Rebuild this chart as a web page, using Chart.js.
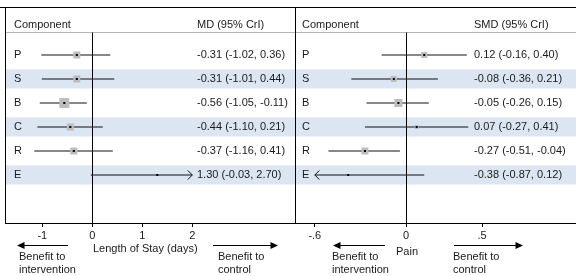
<!DOCTYPE html>
<html><head><meta charset="utf-8">
<script src="https://cdn.jsdelivr.net/npm/chart.js@4.4.1/dist/chart.umd.min.js"></script>
<style>
html,body{margin:0;padding:0;background:#fff;}
#wrap{position:relative;width:576px;height:276px;overflow:hidden;background:#fff;}
#c1{position:absolute;left:0;top:0;}
#c2{position:absolute;left:296px;top:0;}
</style></head><body>
<div id="wrap"><canvas id="c1" width="296" height="276"></canvas><canvas id="c2" width="280" height="276"></canvas></div>
<script>
// ---- data ----
const components = ['P', 'S', 'B', 'C', 'R', 'E'];
const mdEst = [-0.31, -0.31, -0.56, -0.44, -0.37, 1.30];
const mdLo  = [-1.02, -1.01, -1.05, -1.10, -1.16, -0.03];
const mdHi  = [0.36, 0.44, -0.11, 0.21, 0.41, 2.70];
const mdWeight = [7, 7, 10, 7, 7, 0];
const smdEst = [0.12, -0.08, -0.05, 0.07, -0.27, -0.38];
const smdLo  = [-0.16, -0.36, -0.26, -0.27, -0.51, -0.87];
const smdHi  = [0.40, 0.21, 0.15, 0.41, -0.04, 0.12];
const smdWeight = [6, 6, 8, 4, 7, 0];
const mdTicks = [-1, 0, 1, 2];
const mdTickLabels = ['-1', '0', '1', '2'];
const smdTicks = [-0.6, 0, 0.5];
const smdTickLabels = ['-.6', '0', '.5'];

// ---- style ----
const FONT_FAMILY = '"Liberation Sans", Arial, Helvetica, sans-serif';
const FONT = '11px ' + FONT_FAMILY;
const TEXT = '#1a1a1a';
const BAND = '#dce6f2';
const BOX = '#bdbdbd';

function fmt(e, l, h) { return e.toFixed(2) + ' (' + l.toFixed(2) + ', ' + h.toFixed(2) + ')'; }

function makePanel(id, cfg) {
  const n = components.length;
  const ciDatasets = components.map((c, i) => ({
    type: 'line',
    data: [{x: Math.max(cfg.lo[i], cfg.clip[0]), y: i}, {x: Math.min(cfg.hi[i], cfg.clip[1]), y: i}],
    borderColor: '#111', borderWidth: 1, pointRadius: 0, showLine: true, fill: false, order: 3
  }));
  const pts = cfg.est.map((v, i) => ({x: v, y: i}));
  const boxes = {
    type: 'scatter', data: pts, pointStyle: 'rect',
    pointRadius: cfg.weight.map(w => w / (2 * Math.SQRT1_2)),
    backgroundColor: BOX, borderWidth: 0, order: 2
  };
  const dots = {
    type: 'scatter', data: pts, pointStyle: 'rect', pointRadius: 1.45,
    backgroundColor: '#000', borderWidth: 0, order: 1
  };

  const deco = {
    id: 'deco' + id,
    beforeDatasetsDraw(chart) {
      const {ctx, chartArea: a, scales: {x, y}} = chart;
      ctx.save();
      ctx.fillStyle = BAND;
      for (let i = 1; i < n; i += 2) {
        const t = y.getPixelForValue(i - 0.4), b = y.getPixelForValue(i + 0.4);
        ctx.fillRect(a.left, t, a.right - a.left, b - t);
      }
      // header separator
      const hy = Math.round(y.getPixelForValue(-0.95)) + 0.5;
      ctx.strokeStyle = '#b5b5b5'; ctx.lineWidth = 1;
      ctx.beginPath(); ctx.moveTo(a.left, hy); ctx.lineTo(a.right, hy); ctx.stroke();
      // zero line
      const zx = Math.round(x.getPixelForValue(0)) + 0.5;
      ctx.strokeStyle = '#000';
      ctx.beginPath(); ctx.moveTo(zx, hy); ctx.lineTo(zx, a.bottom); ctx.stroke();
      ctx.restore();
    },
    afterDatasetsDraw(chart) {
      const {ctx, chartArea: a, scales: {x, y}} = chart;
      ctx.save();
      // clip arrows
      ctx.strokeStyle = '#111'; ctx.lineWidth = 1;
      components.forEach((c, i) => {
        const py = y.getPixelForValue(i);
        if (cfg.hi[i] > cfg.clip[1]) {
          const px = x.getPixelForValue(cfg.clip[1]);
          ctx.beginPath(); ctx.moveTo(px - 4.5, py - 4.5); ctx.lineTo(px, py); ctx.lineTo(px - 4.5, py + 4.5); ctx.stroke();
        }
        if (cfg.lo[i] < cfg.clip[0]) {
          const px = x.getPixelForValue(cfg.clip[0]);
          ctx.beginPath(); ctx.moveTo(px + 4.5, py - 4.5); ctx.lineTo(px, py); ctx.lineTo(px + 4.5, py + 4.5); ctx.stroke();
        }
      });
      // texts
      ctx.font = FONT; ctx.fillStyle = TEXT; ctx.textBaseline = 'middle'; ctx.textAlign = 'left';
      const hdrY = y.getPixelForValue(-1.25);
      ctx.fillText('Component', cfg.labelX, hdrY);
      ctx.fillText(cfg.header, cfg.textX, hdrY);
      components.forEach((c, i) => {
        const py = y.getPixelForValue(i);
        ctx.fillText(c, cfg.labelX, py);
        ctx.fillText(fmt(cfg.est[i], cfg.lo[i], cfg.hi[i]), cfg.textX, py);
      });
      // borders
      ctx.strokeStyle = '#000'; ctx.lineWidth = 1;
      ctx.beginPath(); ctx.moveTo(0, a.top + 0.5); ctx.lineTo(chart.width, a.top + 0.5); ctx.stroke();
      if (cfg.leftBorder) {
        ctx.beginPath(); ctx.moveTo(a.left + 0.5, a.top); ctx.lineTo(a.left + 0.5, a.bottom); ctx.stroke();
      }
      if (cfg.rightBorder) {
        ctx.beginPath(); ctx.moveTo(chart.width - 0.5, a.top); ctx.lineTo(chart.width - 0.5, a.bottom + 1); ctx.stroke();
      }
      // bottom annotations
      ctx.textAlign = cfg.title.align;
      ctx.fillText(cfg.title.text, cfg.title.x, cfg.title.y);
      ctx.textAlign = 'left';
      const ay = 245.5;
      const arrow = (from, to) => {
        const dir = Math.sign(to - from);
        ctx.beginPath(); ctx.moveTo(from, ay); ctx.lineTo(to - dir * 6, ay); ctx.stroke();
        ctx.beginPath(); ctx.moveTo(to, ay); ctx.lineTo(to - dir * 7.5, ay - 3.4); ctx.lineTo(to - dir * 7.5, ay + 3.4); ctx.closePath(); ctx.fill();
      };
      ctx.fillStyle = '#000';
      arrow(cfg.arrowL[0], cfg.arrowL[1]);
      arrow(cfg.arrowR[0], cfg.arrowR[1]);
      ctx.fillStyle = TEXT;
      ctx.fillText('Benefit to', cfg.benL, 257);
      ctx.fillText('intervention', cfg.benL, 270);
      ctx.fillText('Benefit to', cfg.benR, 257);
      ctx.fillText('control', cfg.benR, 269.5);
      ctx.restore();
    }
  };

  return new Chart(document.getElementById(id), {
    data: {datasets: [...ciDatasets, boxes, dots]},
    options: {
      responsive: false, animation: false, devicePixelRatio: 1,
      layout: {autoPadding: false, padding: {left: cfg.padLeft, top: 7, right: 0, bottom: 0}},
      plugins: {legend: {display: false}, tooltip: {enabled: false}},
      scales: {
        x: {
          type: 'linear', position: 'bottom', min: cfg.min, max: cfg.max,
          afterBuildTicks: s => { s.ticks = cfg.ticks.map(v => ({value: v})); },
          afterFit: s => { s.height = 53; s.paddingLeft = 0; s.paddingRight = 0; s.paddingTop = 0; s.paddingBottom = 0; },
          ticks: {
            callback: (v, i) => cfg.tickLabels[i],
            font: {family: FONT_FAMILY, size: 11}, color: TEXT, padding: 2,
            maxRotation: 0, autoSkip: false
          },
          grid: {display: true, drawOnChartArea: false, drawTicks: true, tickLength: 4, color: '#000', lineWidth: 1},
          border: {display: true, color: '#000', width: 1}
        },
        y: {type: 'linear', display: false, min: -2, max: 7, reverse: true}
      }
    },
    plugins: [deco]
  });
}

makePanel('c1', {
  est: mdEst, lo: mdLo, hi: mdHi, weight: mdWeight,
  ticks: mdTicks, tickLabels: mdTickLabels,
  min: -1.746, max: 4.074, clip: [-1.746, 2],
  padLeft: 5, labelX: 14, textX: 197, header: 'MD (95% CrI)',
  leftBorder: true, rightBorder: true,
  title: {text: 'Length of Stay (days)', x: 93, y: 249, align: 'left'},
  arrowL: [68, 17], arrowR: [213, 278], benL: 19, benR: 218
});
makePanel('c2', {
  est: smdEst, lo: smdLo, hi: smdHi, weight: smdWeight,
  ticks: smdTicks, tickLabels: smdTickLabels,
  min: -0.7237, max: 1.1184, clip: [-0.6, 1.1184],
  padLeft: 0, labelX: 6, textX: 178, header: 'SMD (95% CrI)',
  leftBorder: false, rightBorder: false,
  title: {text: 'Pain', x: 111, y: 252, align: 'center'},
  arrowL: [89, 37], arrowR: [158, 227], benL: 36, benR: 157
});
</script>
</body></html>
